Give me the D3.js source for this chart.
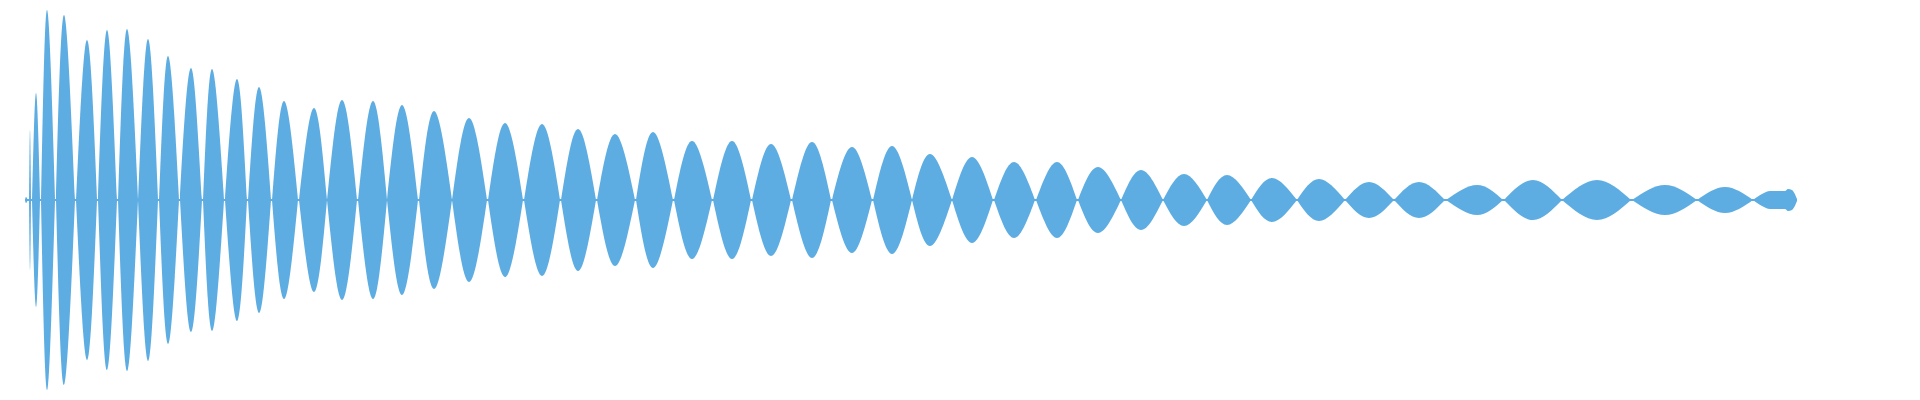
<!DOCTYPE html>
<html>
<head>
<meta charset="utf-8">
<script src="https://cdn.jsdelivr.net/npm/d3@7"></script>
<style>
  html, body { margin: 0; padding: 0; background: #fff; }
  #wave { width: 1920px; height: 400px; }
</style>
</head>
<body>
<div id="wave"></div>
<script>
// waveform lobes: start, peak position, end and peak amplitude
var lobeStart = [25, 29, 32, 41, 56, 76, 98, 118, 138, 159, 180, 203, 225, 248, 272, 299, 327, 358, 387, 419, 452, 488, 524, 561, 597, 636, 674, 713, 752, 792, 832, 873, 912, 952, 994, 1036, 1078, 1121, 1163, 1207, 1251, 1297, 1345, 1394, 1446, 1504, 1562, 1632, 1697]
var lobePeak = [26, 30, 36, 47, 64, 87, 107, 127, 148, 168, 191, 212, 237, 259, 284, 314, 342, 373, 402, 434, 469, 505, 542, 578, 615, 653, 692, 732, 771, 812, 852, 892, 930, 972, 1014, 1057, 1098, 1141, 1184, 1227, 1272, 1319, 1369, 1419, 1477, 1533, 1597, 1665, 1725]
var lobeEnd = [28, 31, 40, 55, 75, 97, 117, 138, 158, 179, 202, 224, 247, 271, 298, 327, 357, 387, 418, 452, 487, 523, 560, 596, 635, 673, 712, 751, 791, 831, 872, 912, 952, 993, 1035, 1077, 1121, 1163, 1207, 1251, 1297, 1345, 1394, 1445, 1503, 1562, 1631, 1697, 1753]
var lobeAmp = [3, 70, 107, 190, 185, 160, 170, 171, 161, 144, 132, 131, 121, 113, 99, 92, 100, 99, 95, 89, 82, 77, 76, 71, 66, 68, 59, 59, 56, 58, 53, 54, 46, 43, 38, 38, 33, 30, 26, 25, 22, 21, 18, 18, 15, 20, 20, 15, 13]

// the ragged tail at the end of the clip
var tailX = [1753, 1762, 1770, 1785, 1788, 1792, 1797]
var tailAmp = [0, 6, 9, 9, 11, 10, 1]

var width = 1920
var height = 400

var x = d3.scaleLinear()
  .domain([0, 1920])
  .range([0, width])

var y = d3.scaleLinear()
  .domain([-200, 200])
  .range([height, 0])

var svg = d3.select("#wave").append("svg")
  .attr("width", width)
  .attr("height", height)

var color = "#5DADE2"

var area = d3.area()
  .x(function (d) { return x(d[0]) })
  .y0(function (d) { return y(-d[1]) })
  .y1(function (d) { return y(d[1]) })
  .curve(d3.curveNatural)

var lobes = []
for (var i = 0; i < lobeStart.length; i++) {
  lobes.push([[lobeStart[i], 0], [lobePeak[i], lobeAmp[i]], [lobeEnd[i], 0]])
}

// thin carrier strip along the middle
svg.append("line")
  .attr("x1", x(lobeStart[0]))
  .attr("x2", x(tailX[tailX.length - 1]))
  .attr("y1", y(0))
  .attr("y2", y(0))
  .attr("stroke", color)
  .attr("stroke-width", 2)

svg.selectAll(".lobe")
  .data(lobes)
  .enter().append("path")
  .attr("class", "lobe")
  .attr("d", area)
  .attr("fill", color)

var tail = tailX.map(function (v, i) { return [v, tailAmp[i]] })
svg.append("path")
  .datum(tail)
  .attr("d", area.curve(d3.curveMonotoneX))
  .attr("fill", color)
</script>
</body>
</html>
